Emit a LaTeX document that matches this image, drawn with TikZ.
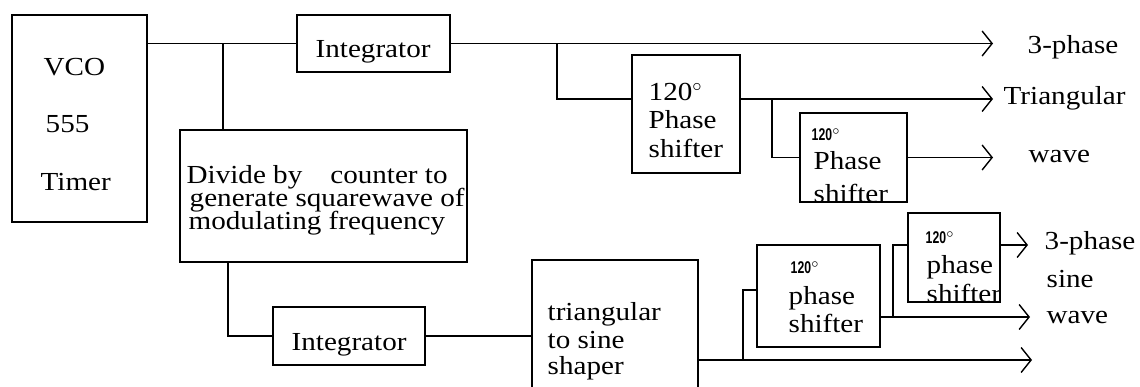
\documentclass[tikz,border=0pt]{standalone}
\usepackage{fontspec}
\setmainfont{Liberation Serif}[FakeStretch=1.12]
\newfontfamily\smallsans{Liberation Sans}[FakeStretch=0.72]
\usetikzlibrary{arrows.meta,fit,calc}
\begin{document}
\begin{tikzpicture}[x=0.5pt,y=-0.5pt,
  line width=0.7pt,
  box/.style={draw, rectangle, inner sep=0pt, line width=0.7pt},
  txt/.style={anchor=base west, inner sep=0pt, font=\fontsize{13}{15}\selectfont},
  small/.style={anchor=base west, inner sep=0pt, font=\smallsans\bfseries\fontsize{8.5}{10}\selectfont},
  arr/.style={-{Straight Barb[length=5pt,width=12.5pt,line width=0.7pt]}}]
\useasboundingbox (0,0) rectangle (1140,386);
% boxes
\node[box, fit={(12,15)(147,222)}] (vco) {};
\node[box, fit={(297,15)(450,72)}] (int1) {};
\node[box, fit={(180,130)(467,262)}] (div) {};
\node[box, fit={(632,55)(740,173)}] (ps1) {};
\node[box, fit={(800,113)(907,202)}] (ps2) {};
\node[box, fit={(273,307)(425,365)}] (int2) {};
\node[box, fit={(532,260)(698,400)}] (shp) {};
\node[box, fit={(757,245)(880,347)}] (ps3) {};
\node[box, fit={(908,213)(1000,302)}] (ps4) {};
% texts
\node[txt] (t1) at (43,75) {VCO};
\node[txt] (t2) at (45,132) {555};
\node[txt] (t3) at (40,190) {Timer};
\node[txt] (t4) at (315,57) {Integrator};
\node[txt] (t5) at (291,350) {Integrator};
\node[txt] (t6) at (186,183) {Divide by\hspace{14pt}counter to};
\node[txt] (t7) at (189,206) {generate squarewave of};
\node[txt] (t8) at (188,229) {modulating frequency};
\node[txt] (t9) at (648,100) {120$^{\circ}$};
\node[txt] (t10) at (648,128) {Phase};
\node[txt] (t11) at (648,157) {shifter};
\node[small] (t12) at (811,140) {120$^{\circ}$};
\node[txt] (t13) at (813,169) {Phase};
\node[txt] (t14) at (813,202) {shifter};
\node[txt] (t15) at (547,320) {triangular};
\node[txt] (t16) at (547,348) {to sine};
\node[txt] (t17) at (547,374) {shaper};
\node[small] (t18) at (790,273) {120$^{\circ}$};
\node[txt] (t19) at (788,304) {phase};
\node[txt] (t20) at (788,332) {shifter};
\node[small] (t21) at (925,243) {120$^{\circ}$};
\node[txt] (t22) at (926,273) {phase};
\node[txt] (t23) at (926,302) {shifter};
\node[txt] (l1) at (1027,53) {3-phase};
\node[txt] (l2) at (1003,104) {Triangular};
\node[txt] (l3) at (1028,162) {wave};
\node[txt] (l4) at (1044,249) {3-phase};
\node[txt] (l5) at (1046,287) {sine};
\node[txt] (l6) at (1046,323) {wave};
% redraw box edges over text
\draw (ps2.south west) -- (ps2.south east);
\draw (ps4.south west) -- (ps4.south east);
% coordinates
\coordinate (j1) at (223,43.5);
\coordinate (j2) at (557,43.5);
\coordinate (j3) at (772,99);
\coordinate (j4) at (228,262);
\coordinate (j5) at (743,360);
\coordinate (j6) at (893,317);
\coordinate (a1) at (993,43.5);
\coordinate (a2) at (993,99);
\coordinate (a3) at (993,157.5);
\coordinate (a4) at (1032,360);
\coordinate (a5) at (1030,317);
\coordinate (a6) at (1028,245);
% connectors
\draw (vco.east |- int1.west) -- (int1.west);
\draw (j1) -- (j1 |- div.north);
\draw[arr] (int1.east) -- (a1);
\draw (j2) |- (ps1.west |- a2);
\draw[arr] (ps1.east |- a2) -- (a2);
\draw (j3) |- (ps2.west);
\draw[arr] (ps2.east) -- (a3);
\draw (j4) |- (int2.west);
\draw (int2.east) -- (int2.east -| shp.west);
\draw[arr] (shp.east |- a4) -- (a4);
\draw (j5) |- (ps3.west |- 0,290);
\draw[arr] (ps3.east |- a5) -- (a5);
\draw (j6) |- (ps4.west |- a6);
\draw[arr] (ps4.east |- a6) -- (a6);
\end{tikzpicture}
\end{document}
